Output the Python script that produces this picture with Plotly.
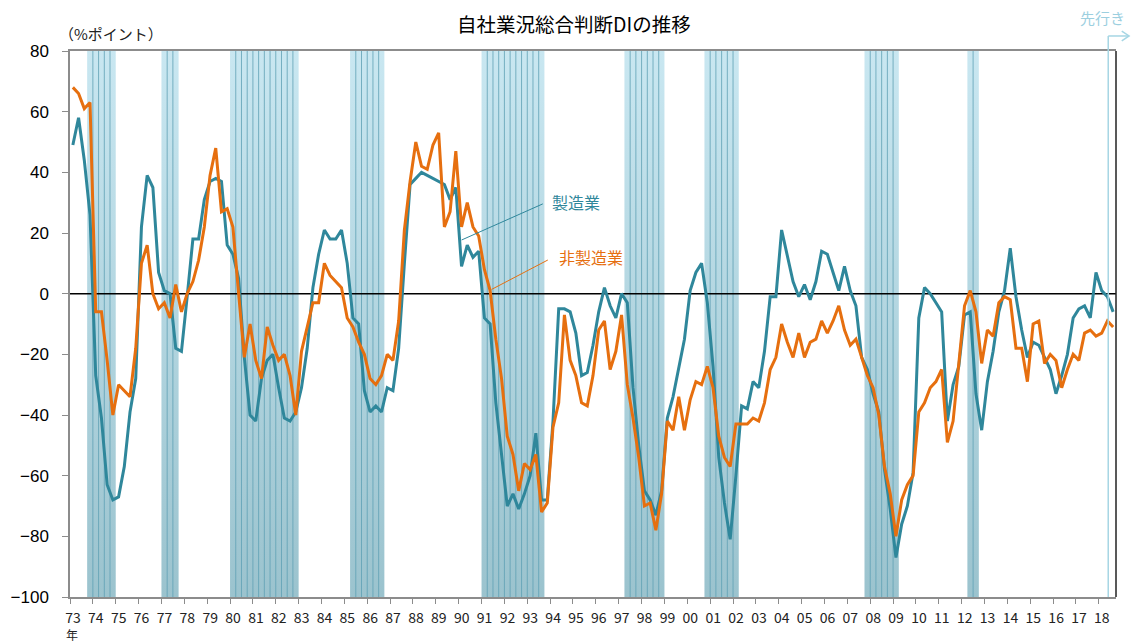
import plotly.graph_objects as go

# ---------------- data ----------------
start_year = 1973
# 製造業 (quarterly, 1973Q1 - 2018Q3)
mfg = [
    49, 58, 44, 26,      # 1973
    -27, -41, -63, -68,  # 1974
    -67, -57, -39, -28,  # 1975
    22, 39, 35, 7,       # 1976
    1, 0, -18, -19,      # 1977
    -1, 18, 18, 31,      # 1978
    37, 38, 37, 16,      # 1979
    13, 5, -21, -40,     # 1980
    -42, -28, -22, -20,  # 1981
    -31, -41, -42, -39,  # 1982
    -31, -18, 2, 13,     # 1983
    21, 18, 18, 21,      # 1984
    10, -8, -10, -32,    # 1985
    -39, -37, -39, -31,  # 1986
    -32, -18, 10, 36,    # 1987
    38, 40, 39, 38,      # 1988
    37, 36, 31, 35,      # 1989
    9, 16, 12, 14,       # 1990
    -8, -10, -36, -52,   # 1991
    -70, -66, -71, -66,  # 1992
    -60, -46, -68, -68,  # 1993
    -42, -5, -5, -6,     # 1994
    -13, -27, -26, -17,  # 1995
    -6, 2, -4, -8,       # 1996
    0, -3, -31, -50,     # 1997
    -65, -68, -73, -65,  # 1998
    -41, -34, -25, -15,  # 1999
    1, 7, 10, -3,        # 2000
    -24, -54, -69, -81,  # 2001
    -60, -37, -38, -29,  # 2002
    -31, -19, -1, -1,    # 2003
    21, 13, 4, -1,       # 2004
    3, -2, 4, 14,        # 2005
    13, 7, 1, 9,         # 2006
    1, -4, -21, -25,     # 2007
    -33, -39, -58, -71,  # 2008
    -87, -76, -70, -59,  # 2009
    -8, 2, 0, -3,        # 2010
    -6, -42, -30, -24,   # 2011
    -7, -6, -33, -45,    # 2012
    -29, -19, -6, 1,     # 2013
    15, -1, -12, -21,    # 2014
    -16, -17, -21, -25,  # 2015
    -33, -27, -20, -8,   # 2016
    -5, -4, -8, 7,       # 2017
    1, -1, -6,           # 2018
]
# 非製造業
nonmfg = [
    68, 66, 61, 63,      # 1973
    -6, -6, -22, -40,    # 1974
    -30, -32, -34, -18,  # 1975
    10, 16, 0, -5,       # 1976
    -3, -8, 3, -6,       # 1977
    0, 4, 11, 22,        # 1978
    39, 48, 27, 28,      # 1979
    22, 0, -21, -10,     # 1980
    -22, -28, -11, -17,  # 1981
    -22, -20, -27, -40,  # 1982
    -19, -11, -3, -3,    # 1983
    10, 6, 4, 2,         # 1984
    -8, -11, -16, -20,   # 1985
    -28, -30, -27, -20,  # 1986
    -22, -9, 21, 37,     # 1987
    50, 42, 41, 49,      # 1988
    53, 22, 27, 47,      # 1989
    22, 30, 22, 19,      # 1990
    8, 1, -15, -28,      # 1991
    -47, -53, -65, -56,  # 1992
    -58, -53, -72, -69,  # 1993
    -44, -36, -7, -22,   # 1994
    -27, -36, -37, -27,  # 1995
    -12, -9, -25, -19,   # 1996
    -7, -30, -41, -54,   # 1997
    -70, -69, -78, -66,  # 1998
    -42, -45, -34, -45,  # 1999
    -35, -29, -30, -24,  # 2000
    -31, -47, -54, -57,  # 2001
    -43, -43, -43, -41,  # 2002
    -42, -36, -25, -21,  # 2003
    -10, -16, -21, -13,  # 2004
    -21, -16, -15, -9,   # 2005
    -13, -9, -4, -12,    # 2006
    -17, -15, -21, -27,  # 2007
    -31, -40, -57, -66,  # 2008
    -80, -68, -63, -60,  # 2009
    -39, -36, -31, -29,  # 2010
    -25, -49, -42, -22,  # 2011
    -4, 1, -6, -23,      # 2012
    -12, -14, -3, -1,    # 2013
    -2, -18, -18, -29,   # 2014
    -10, -9, -23, -20,   # 2015
    -22, -31, -25, -20,  # 2016
    -22, -13, -12, -14,  # 2017
    -13, -9, -11,        # 2018
]
# 景気後退期 (start, end) in decimal years
recessions = [
    (1973.75, 1975.0), (1977.0, 1977.75), (1980.0, 1983.0),
    (1985.25, 1986.75), (1991.0, 1993.75), (1997.25, 1999.0),
    (2000.75, 2002.25), (2007.75, 2009.25), (2012.25, 2012.75),
]
forecast_x = 2018.41
tick_years = list(range(1973, 2019))
tick_labels = [f"{y % 100:02d}" for y in tick_years]
y_ticks = list(range(-100, 81, 20))
y_min, y_max = -100, 80
x_min, x_max = 1973.0, 2018.75

# ---------------- positions ----------------
xq = [start_year + (i // 4) + ((i % 4) + 0.5) / 4 for i in range(len(mfg))]

TEAL = "#2f879b"
ORANGE = "#e66f0f"
CJK = "Noto Sans CJK JP"

fig = go.Figure()

# recession bands with vertical gradient
bx, by = [], []
for s, e in recessions:
    bx += [s, e, e, s, s, None]
    by += [y_min, y_min, y_max, y_max, y_min, None]
fig.add_trace(go.Scatter(
    x=bx, y=by, mode="lines", fill="toself", line=dict(width=0),
    fillgradient=dict(type="vertical",
                      colorscale=[[0, "rgb(155,195,206)"], [1, "rgb(201,231,241)"]]),
    hoverinfo="skip", showlegend=False))

# quarter lines inside bands
lx, ly = [], []
for s, e in recessions:
    q = s + 0.25
    while q < e - 1e-6:
        lx += [q, q, None]
        ly += [y_min, y_max, None]
        q += 0.25
fig.add_trace(go.Scatter(x=lx, y=ly, mode="lines",
                         line=dict(color="rgba(95,160,180,0.8)", width=1),
                         hoverinfo="skip", showlegend=False))

# zero line
fig.add_trace(go.Scatter(x=[x_min, x_max], y=[0, 0], mode="lines",
                         line=dict(color="black", width=1.5),
                         hoverinfo="skip", showlegend=False))

fig.add_trace(go.Scatter(x=xq, y=mfg, mode="lines", name="製造業",
                         line=dict(color=TEAL, width=3), showlegend=False))
fig.add_trace(go.Scatter(x=xq, y=nonmfg, mode="lines", name="非製造業",
                         line=dict(color=ORANGE, width=3), showlegend=False))

# labels with leader lines
fig.add_shape(type="line", x0=1990.13, y0=17.7, x1=1993.68, y1=29.6,
              line=dict(color=TEAL, width=1))
fig.add_shape(type="line", x0=1991.44, y0=1.4, x1=1993.90, y1=11.1,
              line=dict(color=ORANGE, width=1))
fig.add_annotation(x=1993.99, y=30.2, text="製造業", showarrow=False,
                   xanchor="left", yanchor="middle",
                   font=dict(family=CJK, size=16, color=TEAL))
fig.add_annotation(x=1994.29, y=12.1, text="非製造業", showarrow=False,
                   xanchor="left", yanchor="middle",
                   font=dict(family=CJK, size=16, color=ORANGE))

# 先行き marker
FC = "#a6d6e4"
fig.add_shape(type="line", xref="x", yref="paper", x0=forecast_x, x1=forecast_x,
              y0=0, y1=1.0275, line=dict(color=FC, width=1.5))
fig.add_shape(type="line", xref="paper", yref="paper", x0=0.9926, x1=1.0125,
              y0=1.0275, y1=1.0275, line=dict(color=FC, width=1.5))
fig.add_shape(type="path", xref="paper", yref="paper",
              path="M 1.0055 1.0365 L 1.0125 1.0275 L 1.0055 1.0185",
              line=dict(color=FC, width=1.5))
fig.add_annotation(xref="paper", yref="paper", x=0.9875, y=1.0, yshift=34,
                   text="先行き", showarrow=False, xanchor="center", yanchor="middle",
                   font=dict(family=CJK, size=15, color="#9ccfdf"))

# right border
fig.add_shape(type="line", xref="paper", yref="paper", x0=1, x1=1, y0=0, y1=1,
              line=dict(color="#222222", width=1.5))

# titles and unit labels
fig.add_annotation(xref="paper", yref="paper", x=(573.5 - 70) / 1046, y=1.0, yshift=28,
                   text="自社業況総合判断DIの推移", showarrow=False,
                   xanchor="center", yanchor="middle",
                   font=dict(family=CJK, size=19.5, color="black"))
fig.add_annotation(xref="paper", yref="paper", x=(57 - 70) / 1046, y=1.0, yshift=18,
                   text="（%ポイント）", showarrow=False,
                   xanchor="left", yanchor="middle",
                   font=dict(family=CJK, size=15, color="#222222"))
fig.add_annotation(xref="paper", yref="paper", x=(72 - 70) / 1046, y=0, yshift=-37.5,
                   text="年", showarrow=False, xanchor="center", yanchor="middle",
                   font=dict(family=CJK, size=12, color="#222222"))

fig.update_layout(
    width=1131, height=643,
    margin=dict(l=70, r=15, t=51, b=46, autoexpand=False),
    paper_bgcolor="white", plot_bgcolor="white",
    showlegend=False,
)
fig.update_xaxes(
    range=[x_min, x_max], tickvals=tick_years, ticktext=tick_labels,
    showgrid=False, zeroline=False, showline=True, linecolor="#8c8c8c", linewidth=1.5,
    mirror=True, ticks="outside", ticklen=5, tickcolor="#8c8c8c", tickwidth=1,
    ticklabelshift=3, ticklabelstandoff=2,
    tickfont=dict(family=CJK, size=14, color="#222222"),
)
fig.update_yaxes(
    range=[y_min, y_max], tickvals=y_ticks,
    showgrid=False, zeroline=False, showline=True, linecolor="#8c8c8c", linewidth=1.5,
    ticks="outside", ticklen=6, tickcolor="#8c8c8c", tickwidth=1,
    ticklabelstandoff=10,
    tickfont=dict(family="Liberation Sans", size=17, color="black"),
)

fig.write_html("out.html",
               config={"displayModeBar": False},
               post_script="document.body.style.margin='0px';document.body.style.overflow='hidden';")
